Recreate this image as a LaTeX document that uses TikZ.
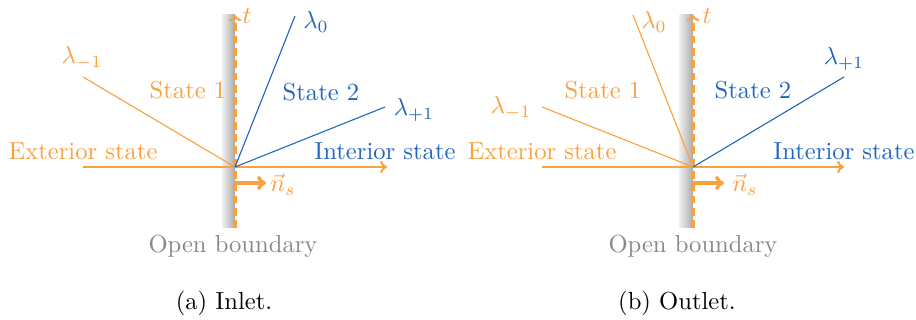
\documentclass[tikz,border=0pt]{standalone}
\usetikzlibrary{arrows.meta}
\definecolor{orng}{HTML}{F9A03F}
\definecolor{blu}{HTML}{1F65C0}
\definecolor{gry}{HTML}{888888}
\begin{document}
\begin{tikzpicture}[x=0.4065pt,y=-0.4065pt,
  lbl/.style={inner sep=0pt},
  olbl/.style={lbl, text=orng},
  blbl/.style={lbl, text=blu},
  glbl/.style={lbl, text=gry},
  axisline/.style={orng, line width=0.8pt, -{To[length=2.8pt,width=5pt]}},
  charline/.style={line width=0.45pt},
  bndline/.style={orng, line width=1.25pt, dash pattern=on 3.2pt off 1.8pt, -{To[length=2.5pt,width=5pt,line width=0.8pt]}},
  nvec/.style={orng, line width=1.4pt, -{To[length=3.6pt,width=5.8pt]}},
  wallshade/.style={left color=black!6, right color=black!33},
]
\useasboundingbox (0,0) rectangle (916,320);

% ---------- panel (a) ----------
\shade[wallshade] (222,15) rectangle (235,228);
\coordinate (oa) at (235,167);
\coordinate (ta) at (235,15);
\coordinate (ba) at (235,228);
\coordinate (la) at (83,167);
\coordinate (ra) at (387,167);
\coordinate (ma) at (83,77);
\coordinate (za) at (295,16);
\coordinate (pa) at (385,107);
\coordinate (na0) at (235,183);
\coordinate (na1) at (266,183);
\draw[bndline] (ba) -- (ta);
\draw[axisline] (la) -- (ra);
\draw[orng,charline] (oa) -- (ma);
\draw[blu,charline] (oa) -- (za);
\draw[blu,charline] (oa) -- (pa);
\draw[nvec] (na0) -- (na1);
\node[olbl] (tla) at (247,16) {$t$};
\node[blbl] (l0a) at (316,22) {$\lambda_0$};
\node[olbl] (lma) at (82,58) {$\lambda_{-1}$};
\node[blbl] (lpa) at (414,110) {$\lambda_{+1}$};
\node[olbl] (s1a) at (188,90) {State 1};
\node[blbl] (s2a) at (321,92) {State 2};
\node[olbl] (exa) at (83,151) {Exterior state};
\node[blbl] (ina) at (385,151) {Interior state};
\node[olbl] (nsa) at (283,185) {$\vec{n}_s$};
\node[glbl] (oba) at (233,246) {Open boundary};
\node[lbl] (capa) at (224,303) {(a) Inlet.};

% ---------- panel (b) ----------
\shade[wallshade] (679,15) rectangle (693,228);
\coordinate (ob) at (693,167);
\coordinate (tb) at (693,15);
\coordinate (bb) at (693,228);
\coordinate (lb) at (542,167);
\coordinate (rb) at (844,167);
\coordinate (mb) at (542,107);
\coordinate (zb) at (633,15);
\coordinate (pb) at (844,77);
\coordinate (nb0) at (693,183);
\coordinate (nb1) at (724,183);
\draw[bndline] (bb) -- (tb);
\draw[axisline] (lb) -- (rb);
\draw[orng,charline] (ob) -- (mb);
\draw[orng,charline] (ob) -- (zb);
\draw[blu,charline] (ob) -- (pb);
\draw[nvec] (nb0) -- (nb1);
\node[olbl] (tlb) at (707,16) {$t$};
\node[olbl] (l0b) at (654,22) {$\lambda_0$};
\node[olbl] (lmb) at (511,108) {$\lambda_{-1}$};
\node[blbl] (lpb) at (844,59) {$\lambda_{+1}$};
\node[olbl] (s1b) at (603,90) {State 1};
\node[blbl] (s2b) at (753,90) {State 2};
\node[olbl] (exb) at (542,151) {Exterior state};
\node[blbl] (inb) at (844,151) {Interior state};
\node[olbl] (nsb) at (745,185) {$\vec{n}_s$};
\node[glbl] (obb) at (693,246) {Open boundary};
\node[lbl] (capb) at (677,303) {(b) Outlet.};
\end{tikzpicture}
\end{document}
